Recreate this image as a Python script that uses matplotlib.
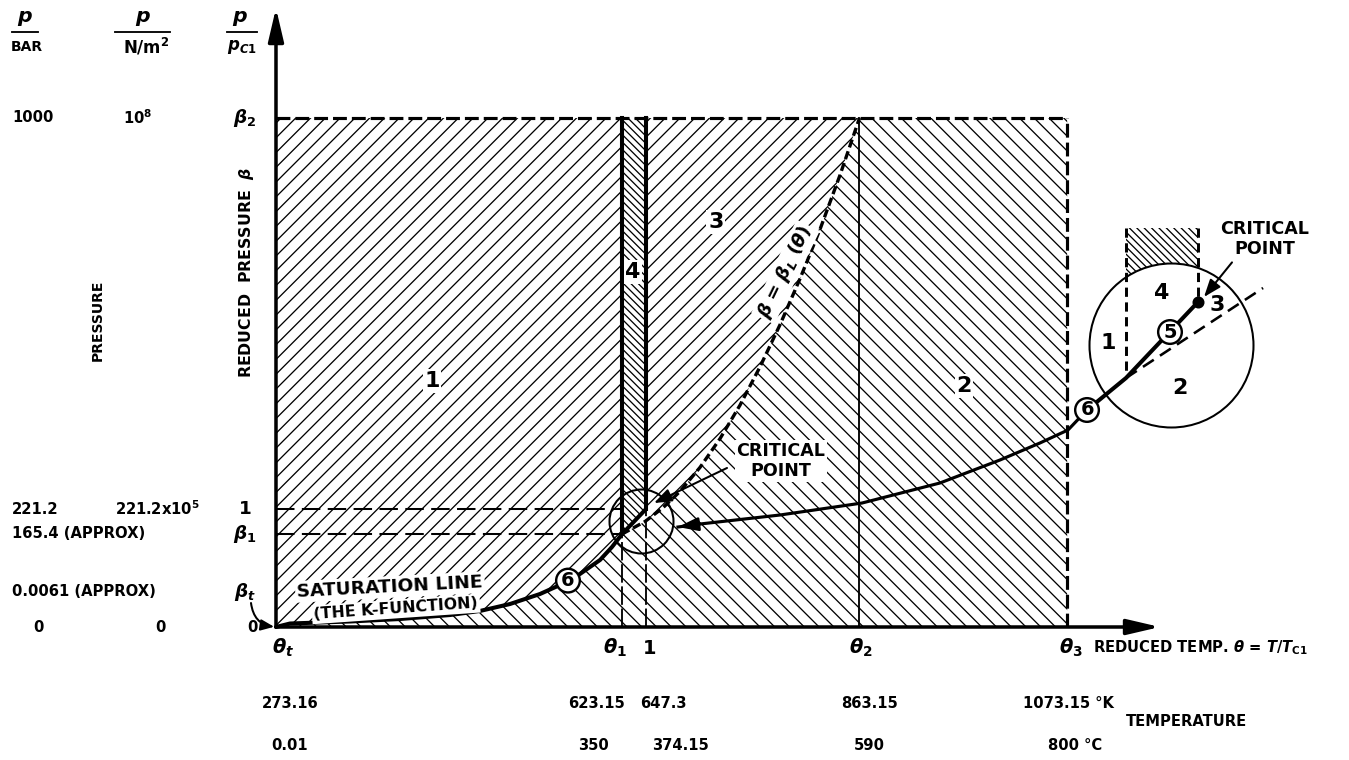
import numpy as np
import matplotlib
matplotlib.use("Agg")
import matplotlib.pyplot as plt

W, H, DPI = 1349, 760, 133

# temperature marks (K, degC) and their reduced labels
temps_K = [273.16, 623.15, 647.3, 863.15, 1073.15]
temps_C = ['0.01', '350', '374.15', '590', '800 °C']
temps_K_txt = ['273.16', '623.15', '647.3', '863.15', '1073.15 °K']
theta_txt = [r'$\theta_t$', r'$\theta_1$', '1', r'$\theta_2$', r'$\theta_3$']

# pressure marks (bar) and their labels
press_bar = [1000.0, 221.2, 165.4, 0.0061, 0.0]
press_bar_txt = ['1000', '221.2', '165.4 (APPROX)', '0.0061 (APPROX)', '0']
press_pa_txt = ['10$^8$', '221.2x10$^5$', '', '', '0']
press_red_txt = [r'$\beta_2$', '1', r'$\beta_1$', r'$\beta_t$', '0']

# saturation line (K-function), T in K, p in bar
sat_T = [273.16, 287.3, 348.0, 398.5, 449.1, 479.4, 509.8, 540.1, 560.3,
         580.5, 600.8, 612.9, 623.15, 647.3]
sat_p = [0.0061, 6.2, 9.8, 14.2, 21.3, 28.5, 40.9, 58.7, 74.7,
         94.3, 119.2, 142.3, 165.4, 221.2]

# boundary line beta = beta_L(theta)
bl_T = [623.15, 646.3, 664.5, 681.7, 701.9, 722.1, 742.3, 762.5, 782.8,
        803.0, 823.4, 843.4, 863.15]
bl_p = [165.4, 193.3, 223.8, 256.3, 304.1, 361.2, 427.9, 504.2, 588.3,
        679.9, 779.1, 886.1, 1000.0]

# enlarged detail near the critical point (drawn right of the chart)
det_sat_T = [1205.4, 1132.6, 1093.2, 1074.0, 1045.65, 1005.2, 944.5, 865.7,
             782.8, 701.9, 679.6]
det_sat_p = [633.5, 482.1, 418.4, 378.6, 352.7, 318.8, 273.0, 233.1,
             207.8, 187.7, 181.0]
det_L_T = [1132.6, 1271.2]
det_L_p = [482.1, 661.4]
det_reg4_T = [1132.6, 1205.4, 1205.4, 1132.6]
det_reg4_p = [780.9, 780.9, 633.5, 482.1]
det_crit = (1205.4, 633.5)
det_circle = (1178.1, 547.9)
small_circle = (642.2, 194.4)

# schematic pressure axis: piecewise linear
P_KN = [0.0, 165.4, 221.2, 1000.0]
U_KN = [0.0, 93.0, 118.0, 509.0]
lo_s = U_KN[1] / P_KN[1]
hi_s = (U_KN[3] - U_KN[2]) / (P_KN[3] - P_KN[2])


def p_to_u(p):
    p = np.asarray(p, dtype=float)
    u = np.interp(p, P_KN, U_KN)
    u = np.where(p < 0, p * lo_s, u)
    return np.where(p > P_KN[-1], U_KN[-1] + (p - P_KN[-1]) * hi_s, u)


def u_to_p(u):
    u = np.asarray(u, dtype=float)
    p = np.interp(u, U_KN, P_KN)
    p = np.where(u < 0, u / lo_s, p)
    return np.where(u > U_KN[-1], P_KN[-1] + (u - U_KN[-1]) / hi_s, p)


def fx(px):
    return px / W


def fy(py):
    return 1 - py / H


def pt(px):
    return px * 72 / DPI


plt.rcParams['lines.scale_dashes'] = False
plt.rcParams['hatch.linewidth'] = 0.7
plt.rcParams['font.family'] = 'DejaVu Sans'
plt.rcParams['font.weight'] = 'bold'
plt.rcParams['mathtext.fontset'] = 'custom'
plt.rcParams['mathtext.rm'] = 'DejaVu Sans:bold'
plt.rcParams['mathtext.it'] = 'DejaVu Sans:italic:bold'
plt.rcParams['mathtext.bf'] = 'DejaVu Sans:bold'

fig = plt.figure(figsize=(W / DPI, H / DPI), dpi=DPI)
ax = fig.add_axes([0, 0, 1, 1])
ax.set_yscale('function', functions=(p_to_u, u_to_p))
ax.axis('off')

T_t, T_1, T_c, T_2, T_3 = temps_K
p_top, p_c, p_1 = press_bar[0], press_bar[1], press_bar[2]

SPARSE_F, SPARSE_B, DENSE_B = '///', '\\\\\\', '\\\\\\\\\\\\'

# ---- hatched regions
reg1_T = sat_T[:13] + [T_1, T_t]
reg1_p = sat_p[:13] + [p_top, p_top]
reg4_T = sat_T[12:] + [T_c, T_1]
reg4_p = sat_p[12:] + [p_top, p_top]
reg3_T = sat_T[12:] + [T_c] + bl_T[::-1]
reg3_p = sat_p[12:] + [p_top] + bl_p[::-1]
reg2_T = sat_T[:13] + bl_T[1:] + [T_3, T_3, T_t]
reg2_p = sat_p[:13] + bl_p[1:] + [p_top, 0, 0]
for xs, ys, h in [(reg1_T, reg1_p, SPARSE_F), (reg4_T, reg4_p, DENSE_B),
                  (reg3_T, reg3_p, SPARSE_F), (reg2_T, reg2_p, SPARSE_B)]:
    ax.fill(xs, ys, facecolor='none', edgecolor='k', linewidth=0, hatch=h)

# ---- boundaries
ax.plot([T_t, T_3], [p_top, p_top], 'k', lw=1.7, dashes=(7.5, 2.7))
ax.plot([T_3, T_3], [0, p_top], 'k', lw=1.7, dashes=(7.5, 2.7))
ax.plot([T_2, T_2], [0, p_top], 'k', lw=1.0)
ax.plot([T_1, T_1], [p_1, p_top], 'k', lw=2.2)
ax.plot([T_c, T_c], [p_c, p_top], 'k', lw=2.2)
ax.plot([T_1, T_1], [0, p_1], 'k', lw=1.0, dashes=(10, 2))
ax.plot([T_c, T_c], [0, p_c], 'k', lw=1.0, dashes=(10, 2))
for pv in (p_c, p_1):
    ax.plot([T_t, T_1], [pv, pv], 'k', lw=1.1, dashes=(10, 4))
ax.plot(bl_T, bl_p, 'k', lw=1.8, dashes=(4.5, 2.2))
ax.plot(sat_T, sat_p, 'k', lw=2.2, solid_capstyle='round',
        solid_joinstyle='round')

# ---- axes with arrows
arr = dict(arrowstyle='-|>,head_length=1.5,head_width=0.35', lw=1.9,
           color='k', shrinkA=0, shrinkB=0)
ax.annotate('', xy=(T_t, 1219), xytext=(T_t, 0), arrowprops=arr)
ax.annotate('', xy=(1167.0, 0), xytext=(T_t, 0), arrowprops=arr)

# ---- small circle at the critical point and pointers
ax.plot(*small_circle, 'o', ms=pt(64), mfc='none', mec='k', mew=1.1)
ax.annotate('', xy=(655.4, 233.1), xytext=(729.2, 302.9),
            arrowprops=dict(arrowstyle='-|>,head_length=0.8,head_width=0.3',
                            lw=1.1, color='k', shrinkA=0, shrinkB=0))

# ---- enlarged detail
ax.plot(*det_circle, 'o', ms=pt(164), mfc='white', mec='k', mew=1.1)
ax.fill(det_reg4_T, det_reg4_p, facecolor='none', edgecolor='k',
        linewidth=0, hatch=DENSE_B)
ax.plot([det_reg4_T[0], det_reg4_T[3]], [det_reg4_p[0], det_reg4_p[3]],
        'k', lw=1.6, dashes=(5, 3))
ax.plot([det_reg4_T[1], det_reg4_T[2]], [det_reg4_p[1], det_reg4_p[2]],
        'k', lw=1.6, dashes=(5, 3))
ax.plot(det_L_T, det_L_p, 'k', lw=1.4, dashes=(7, 4))
ax.plot(det_sat_T[:3], det_sat_p[:3], 'k', lw=2.2)
ax.plot(det_sat_T[2:], det_sat_p[2:], 'k', lw=1.7, solid_joinstyle='round')
ax.annotate('', xy=(det_sat_T[-1], det_sat_p[-1]),
            xytext=(det_sat_T[-2], det_sat_p[-2]),
            arrowprops=dict(arrowstyle='-|>,head_length=0.9,head_width=0.3',
                            lw=1.5, color='k', shrinkA=0, shrinkB=0))
ax.plot(*det_crit, 'o', ms=5.5, color='k')
ax.annotate('', xy=(1211.5, 643.5), xytext=(1239.8, 712.4),
            arrowprops=dict(arrowstyle='-|>,head_length=0.8,head_width=0.3',
                            lw=1.1, color='k', shrinkA=0, shrinkB=0))

wb = dict(fc='white', ec='none', pad=1.0)
circ = dict(boxstyle='circle,pad=0.12', fc='white', ec='k', lw=1.3)
ax.text(1114.4, 551.8, '1', fontsize=12, ha='center', va='center')
ax.text(1169.0, 651.5, '4', fontsize=12, ha='center', va='center', bbox=wb)
ax.text(1224.6, 627.5, '3', fontsize=12, ha='center', va='center')
ax.text(1187.2, 462.2, '2', fontsize=12, ha='center', va='center')
ax.text(1177.1, 573.7, '5', fontsize=10.5, ha='center', va='center', bbox=circ)
ax.text(1093.2, 418.4, '6', fontsize=10.5, ha='center', va='center', bbox=circ)
ax.text(1273.2, 759.0, 'CRITICAL\nPOINT', fontsize=9.5, ha='center',
        va='center', linespacing=1.1)

# ---- labels inside the chart
ax.text(430.9, 476.1, '1', fontsize=12, ha='center', va='center', bbox=wb)
ax.text(634.1, 693.3, '4', fontsize=12, ha='center', va='center', bbox=wb)
ax.text(718.0, 792.9, '3', fontsize=12, ha='center', va='center', bbox=wb)
ax.text(968.8, 466.2, '2', fontsize=12, ha='center', va='center', bbox=wb)
ax.text(788.3, 693.3, r'$\beta$ = $\beta_L$ ($\theta$)', fontsize=10,
        rotation=64, ha='center', va='center', bbox=wb)
ax.text(783.8, 316.8, 'CRITICAL\nPOINT', fontsize=9.5, ha='center',
        va='center', linespacing=1.1, bbox=wb)
ax.text(388.4, 71.1, 'SATURATION LINE', fontsize=10, rotation=3,
        ha='center', va='center', bbox=wb)
ax.text(394.5, 32.0, '(THE K-FUNCTION)', fontsize=8.5, rotation=4,
        ha='center', va='center', bbox=wb)
ax.text(568.4, 82.5, '6', fontsize=10.5, ha='center', va='center', bbox=circ)

# ---- temperature scale below the axis
xt = ax.get_xaxis_transform()
rows = [(theta_txt, 648, [7, -7, 4, 1, 4], 10.5),
        (temps_K_txt, 703, [14, -26, 17, 10, 1], 8),
        (temps_C, 745, [14, -29, 34, 10, 8], 8)]
for texts, py, offs, fs in rows:
    for T, s, dx in zip(temps_K, texts, offs):
        ax.annotate(s, xy=(T, fy(py)), xycoords=xt, xytext=(pt(dx), 0),
                    textcoords='offset points', ha='center', va='center',
                    fontsize=fs)
ax.text(fx(1093), fy(648), r'REDUCED TEMP. $\theta$ = $T/T_{\rm C1}$',
        transform=ax.transAxes, fontsize=8, ha='left', va='center')
ax.text(fx(1187), fy(722), 'TEMPERATURE', transform=ax.transAxes,
        fontsize=8, ha='center', va='center')

# ---- pressure scale left of the axis
yt = ax.get_yaxis_transform()
for i, (pv, s1, s2, s3) in enumerate(zip(press_bar, press_bar_txt,
                                         press_pa_txt, press_red_txt)):
    dy = pt(35) if i == 3 else 0
    last = i == len(press_bar) - 1
    ax.annotate(s1, xy=(fx(38) if last else fx(12), pv), xycoords=yt,
                xytext=(0, dy), textcoords='offset points',
                ha='center' if last else 'left', va='center', fontsize=8)
    x2 = [138, 157, 150, 150, 160][i]
    ax.annotate(s2, xy=(fx(x2), pv), xycoords=yt, xytext=(0, dy),
                textcoords='offset points', ha='center', va='center',
                fontsize=8)
    ax.annotate(s3, xy=(fx(252 if last else 245), pv), xycoords=yt,
                xytext=(0, dy), textcoords='offset points', ha='center',
                va='center', fontsize=8 if last else 10)
ax.annotate('', xy=(T_t, press_bar[3]), xytext=(fx(251), fy(603)),
            textcoords='axes fraction',
            arrowprops=dict(arrowstyle='-|>,head_length=0.6,head_width=0.25',
                            lw=1.1, color='k', shrinkA=0, shrinkB=1,
                            connectionstyle='arc3,rad=0.4'))

# headers p / BAR, p / N/m2, p / p_c1
for cx, num, den, (b0, b1), dx in [(25, '$p$', 'BAR', (12, 38), 27),
                                   (143, '$p$', 'N/m$^2$', (115, 170), 146),
                                   (240, '$p$', '$p_{C1}$', (227, 257), 242)]:
    ax.text(fx(cx), fy(18), num, transform=ax.transAxes, fontsize=11,
            ha='center', va='center')
    ax.plot([fx(b0), fx(b1)], [fy(32), fy(32)], 'k', lw=1.0,
            transform=ax.transAxes)
    ax.text(fx(dx), fy(47), den, transform=ax.transAxes,
            fontsize=7.5 if den == 'BAR' else 9, ha='center', va='center')

ax.text(fx(98), fy(320), 'PRESSURE', transform=ax.transAxes, fontsize=7.5,
        rotation=90, ha='center', va='center')
ax.text(fx(247), fy(272), r'REDUCED  PRESSURE  $\beta$',
        transform=ax.transAxes, fontsize=8.5, rotation=90, ha='center',
        va='center')

ax.set_xlim(-5.9, 1358.1)
ax.set_ylim(float(u_to_p(-133)), float(u_to_p(627)))
fig.savefig('out.png', dpi=DPI)
